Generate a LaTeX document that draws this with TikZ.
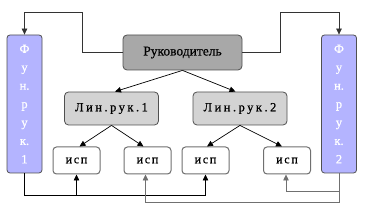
\documentclass[tikz,border=0pt]{standalone}
\usepackage{fontspec}
\setmainfont{Liberation Serif}[FakeBold=0.6]
\usetikzlibrary{arrows.meta,calc}
\definecolor{lav}{HTML}{B4B4FF}
\definecolor{rukfill}{HTML}{A8A8A8}
\definecolor{linfill}{HTML}{D3D3D3}
\definecolor{edge}{HTML}{505050}
\definecolor{ispedge}{HTML}{707070}
\definecolor{gline}{HTML}{707070}
\tikzset{
  bar/.style={draw=edge, line width=0.8pt, fill=lav, rounded corners=3pt, minimum width=35pt, minimum height=138pt, inner sep=0pt, align=center, text=white, font=\fontsize{12.5}{18.4}\selectfont},
  boss/.style={draw=edge, line width=0.8pt, fill=rukfill, rounded corners=4pt, minimum width=119pt, minimum height=35pt, inner sep=0pt, font=\fontsize{13.5}{16}\selectfont},
  lin/.style={draw=edge, line width=0.8pt, fill=linfill, rounded corners=4pt, minimum width=94pt, minimum height=33pt, inner sep=0pt, font=\fontsize{12.5}{14}\selectfont\addfontfeatures{LetterSpace=20}},
  isp/.style={draw=ispedge, line width=1pt, fill=white, rounded corners=3.5pt, minimum width=47pt, minimum height=27pt, inner sep=0pt, font=\fontsize{12}{12}\selectfont\addfontfeatures{LetterSpace=14}},
  arr/.style={-{Triangle[width=5.5pt,length=6pt]}, line width=0.7pt},
}
\begin{document}
\begin{tikzpicture}[x=1pt,y=-1pt]
\useasboundingbox[fill=white] (0,0) rectangle (365,213);
\node[bar] (bar1) at (24.5,104) {Ф\\у\\н.\\р\\у\\к.\\1};
\node[bar] (bar2) at (339,104) {Ф\\у\\н.\\р\\у\\к.\\2};
\node[boss] (ruk) at (182.5,52.5) {Руководитель};
\node[lin] (lin1) at (111.5,108.5) {Лин.рук.1};
\node[lin] (lin2) at (240,108.5) {Лин.рук.2};
\node[isp] (isp1) at (76.5,160.5) {исп};
\node[isp] (isp2) at (147.5,160.5) {исп};
\node[isp] (isp3) at (205.5,160.5) {исп};
\node[isp] (isp4) at (287,160.5) {исп};
\coordinate (tl) at (82,12);
\coordinate (tr) at (280,12);
\coordinate (lowL) at (0,195);
\coordinate (lowR) at (0,202);
\coordinate (midR) at (0,191);
% top connectors
\draw[arr, draw=black!80] (ruk.west) -| (tl) -| (bar1.north);
\draw[arr, draw=black!80] (ruk.east) -| (tr) -| (bar2.north);
% hierarchy
\draw[arr] (ruk.south) -- ($(lin1.north)+(3.5,0)$);
\draw[arr] (ruk.south) -- ($(lin2.north)+(-4.5,0)$);
\draw[arr] (lin1.south) -- ($(isp1.north)+(3,0)$);
\draw[arr] (lin1.south) -- ($(isp2.north)+(-4,0)$);
\draw[arr] (lin2.south) -- ($(isp3.north)+(1.5,0)$);
\draw[arr] (lin2.south) -- ($(isp4.north)+(-5,0)$);
% bottom connectors
\draw[arr] (bar1.south) -- (bar1.south |- lowL) -| (isp3.south);
\draw[arr] (isp1.south |- lowL) -- (isp1.south);
\draw[arr, draw=gline] (bar2.south) -- (bar2.south |- lowR) -| ($(isp2.south)+(-2,0)$);
\draw[arr, draw=gline] (bar2.south |- midR) -| ($(isp4.south)+(-1,0)$);
\end{tikzpicture}
\end{document}
